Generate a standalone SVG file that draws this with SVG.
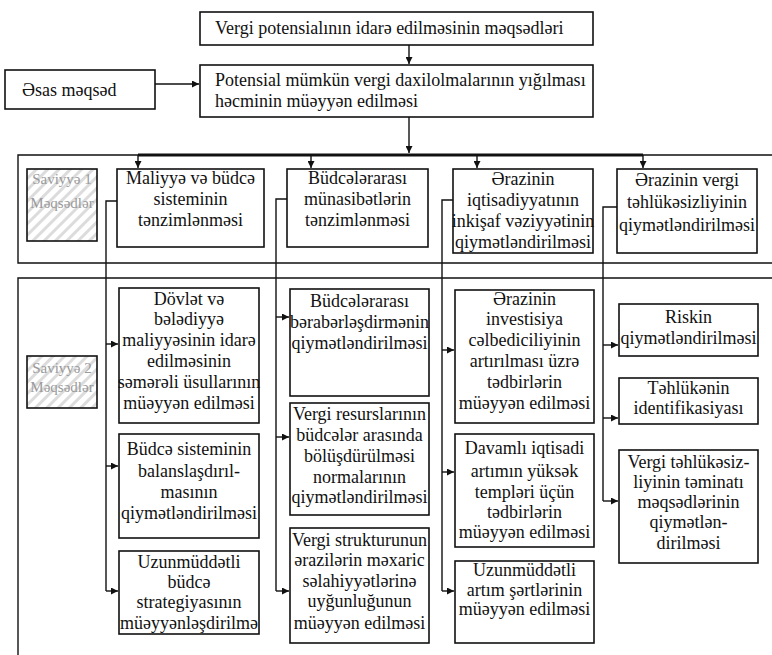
<svg xmlns="http://www.w3.org/2000/svg" width="772" height="655" viewBox="0 0 772 655">
<style>
.box{fill:#fff;stroke:#111;stroke-width:1.6}
.frame{fill:none;stroke:#111;stroke-width:1.4}
.ln{fill:none;stroke:#111;stroke-width:1.4}
.bus{fill:none;stroke:#111;stroke-width:3}
.hatch{fill:url(#hatch);stroke:#111;stroke-width:1.6}
</style>
<defs>
<marker id="ah" viewBox="0 0 10 10" refX="10" refY="5" markerWidth="7" markerHeight="7" markerUnits="userSpaceOnUse" orient="auto">
<path d="M0,0 L10,5 L0,10 z" fill="#111"/>
</marker>
<pattern id="hatch" patternUnits="userSpaceOnUse" width="8" height="8" patternTransform="rotate(45)">
<rect width="8" height="8" fill="#fff"/>
<rect width="3" height="8" fill="#dcdcdc"/>
</pattern>
</defs>
<rect width="772" height="655" fill="#fff"/>

<g id="level1-frame">
<path class="frame" d="M772,155 L18,155 L18,263 L772,263"/>
</g>
<g id="level2-frame">
<path class="frame" d="M772,278 L18,278 L18,655"/>
</g>

<g id="connectors">
<line class="ln" x1="409" y1="45" x2="409" y2="64" marker-end="url(#ah)"/>
<line class="ln" x1="155" y1="84" x2="199" y2="84" marker-end="url(#ah)"/>
<line class="ln" x1="409" y1="117" x2="409" y2="153" marker-end="url(#ah)"/>
<line class="bus" x1="138" y1="155" x2="643" y2="155"/>
<line class="ln" x1="138" y1="155" x2="138" y2="168" marker-end="url(#ah)"/>
<line class="ln" x1="311" y1="155" x2="311" y2="168" marker-end="url(#ah)"/>
<line class="ln" x1="477" y1="155" x2="477" y2="168" marker-end="url(#ah)"/>
<line class="ln" x1="643" y1="155" x2="643" y2="168" marker-end="url(#ah)"/>
<path class="ln" d="M117,201 L106,201 L106,591"/>
<line class="ln" x1="106" y1="344" x2="118" y2="344" marker-end="url(#ah)"/>
<line class="ln" x1="106" y1="466" x2="118" y2="466" marker-end="url(#ah)"/>
<line class="ln" x1="106" y1="591" x2="118" y2="591" marker-end="url(#ah)"/>
<path class="ln" d="M287,199 L276,199 L276,591"/>
<line class="ln" x1="276" y1="317" x2="289" y2="317" marker-end="url(#ah)"/>
<line class="ln" x1="276" y1="437" x2="289" y2="437" marker-end="url(#ah)"/>
<line class="ln" x1="276" y1="591" x2="289" y2="591" marker-end="url(#ah)"/>
<path class="ln" d="M453,200 L442,200 L442,591"/>
<line class="ln" x1="442" y1="350" x2="454" y2="350" marker-end="url(#ah)"/>
<line class="ln" x1="442" y1="472" x2="454" y2="472" marker-end="url(#ah)"/>
<line class="ln" x1="442" y1="591" x2="454" y2="591" marker-end="url(#ah)"/>
<path class="ln" d="M617,207 L603,207 L603,501"/>
<line class="ln" x1="603" y1="345" x2="618" y2="345" marker-end="url(#ah)"/>
<line class="ln" x1="603" y1="418" x2="618" y2="418" marker-end="url(#ah)"/>
<line class="ln" x1="603" y1="501" x2="618" y2="501" marker-end="url(#ah)"/>
</g>

<g id="nodes" font-family="Liberation Serif" font-size="18" fill="#111">
<g id="goals-title">
<rect class="box" x="200" y="12" width="393" height="33"/>
<text x="215" y="34">Vergi potensialının idarə edilməsinin məqsədləri</text>
</g>
<g id="main-goal-label">
<rect class="box" x="5" y="70" width="150" height="39"/>
<text x="22" y="96">Əsas məqsəd</text>
</g>
<g id="main-goal">
<rect class="box" x="200" y="65" width="393" height="52"/>
<text x="215" y="86">Potensial mümkün vergi daxilolmalarının yığılması</text>
<text x="215" y="107">həcminin müəyyən edilməsi</text>
</g>

<g id="level1-label" font-size="15" fill="#9a9a9a" text-anchor="middle">
<rect class="hatch" x="27" y="169" width="70" height="72"/>
<text x="62" y="184">Saviyyə 1</text>
<text x="62" y="208">Məqsədlər</text>
</g>
<g id="level2-label" font-size="15" fill="#9a9a9a" text-anchor="middle">
<rect class="hatch" x="27" y="356" width="70" height="52"/>
<text x="62" y="373">Saviyyə 2</text>
<text x="62" y="392">Məqsədlər</text>
</g>

<g id="l1-finance" text-anchor="middle">
<rect class="box" x="117" y="169" width="147" height="78"/>
<text x="190.5" y="184">Maliyyə və büdcə</text>
<text x="190.5" y="205">sisteminin</text>
<text x="190.5" y="226">tənzimlənməsi</text>
</g>
<g id="l1-interbudget" text-anchor="middle">
<rect class="box" x="287" y="169" width="141" height="78"/>
<text x="357.5" y="184">Büdcələrarası</text>
<text x="357.5" y="205">münasibətlərin</text>
<text x="357.5" y="226">tənzimlənməsi</text>
</g>
<g id="l1-economy" text-anchor="middle">
<rect class="box" x="453" y="169" width="140" height="84"/>
<text x="523" y="185">Ərazinin</text>
<text x="523" y="206">iqtisadiyyatının</text>
<text x="523" y="227">inkişaf vəziyyətinin</text>
<text x="523" y="248">qiymətləndirilməsi</text>
</g>
<g id="l1-security" text-anchor="middle">
<rect class="box" x="617" y="169" width="140" height="84"/>
<text x="687" y="186">Ərazinin vergi</text>
<text x="687" y="208">təhlükəsizliyinin</text>
<text x="687" y="231">qiymətləndirilməsi</text>
</g>

<g id="l2-c1-methods" text-anchor="middle">
<rect class="box" x="119" y="288" width="140" height="135"/>
<text x="189" y="305">Dövlət və</text>
<text x="189" y="325">bələdiyyə</text>
<text x="189" y="346">maliyyəsinin idarə</text>
<text x="189" y="367">edilməsinin</text>
<text x="189" y="388">səmərəli üsullarının</text>
<text x="189" y="409">müəyyən edilməsi</text>
</g>
<g id="l2-c1-balance" text-anchor="middle">
<rect class="box" x="119" y="434" width="140" height="104"/>
<text x="189" y="455">Büdcə sisteminin</text>
<text x="189" y="477">balanslaşdırıl-</text>
<text x="189" y="498">masının</text>
<text x="189" y="519">qiymətləndirilməsi</text>
</g>
<g id="l2-c1-strategy" text-anchor="middle">
<rect class="box" x="119" y="551" width="140" height="83"/>
<text x="189" y="568">Uzunmüddətli</text>
<text x="189" y="588">büdcə</text>
<text x="189" y="608">strategiyasının</text>
<text x="189" y="629">müəyyənləşdirilmə</text>
</g>

<g id="l2-c2-equalization" text-anchor="middle">
<rect class="box" x="290" y="289" width="139" height="107"/>
<text x="359.5" y="307">Büdcələrarası</text>
<text x="359.5" y="328">bərabərləşdirmənin</text>
<text x="359.5" y="349">qiymətləndirilməsi</text>
</g>
<g id="l2-c2-resources" text-anchor="middle">
<rect class="box" x="290" y="403" width="139" height="112"/>
<text x="359.5" y="420">Vergi resurslarının</text>
<text x="359.5" y="441">büdcələr arasında</text>
<text x="359.5" y="462">bölüşdürülməsi</text>
<text x="359.5" y="483">normalarının</text>
<text x="359.5" y="503">qiymətləndirilməsi</text>
</g>
<g id="l2-c2-structure" text-anchor="middle">
<rect class="box" x="290" y="528" width="139" height="115"/>
<text x="359.5" y="546">Vergi strukturunun</text>
<text x="359.5" y="566">ərazilərin məxaric</text>
<text x="359.5" y="587">səlahiyyətlərinə</text>
<text x="359.5" y="607">uyğunluğunun</text>
<text x="359.5" y="629">müəyyən edilməsi</text>
</g>

<g id="l2-c3-investment" text-anchor="middle">
<rect class="box" x="455" y="290" width="139" height="133"/>
<text x="524.5" y="305">Ərazinin</text>
<text x="524.5" y="325">investisiya</text>
<text x="524.5" y="346">cəlbediciliyinin</text>
<text x="524.5" y="367">artırılması üzrə</text>
<text x="524.5" y="388">tədbirlərin</text>
<text x="524.5" y="409">müəyyən edilməsi</text>
</g>
<g id="l2-c3-growth" text-anchor="middle">
<rect class="box" x="455" y="434" width="139" height="113"/>
<text x="524.5" y="454">Davamlı iqtisadi</text>
<text x="524.5" y="477">artımın yüksək</text>
<text x="524.5" y="498">templəri üçün</text>
<text x="524.5" y="518">tədbirlərin</text>
<text x="524.5" y="538">müəyyən edilməsi</text>
</g>
<g id="l2-c3-longterm" text-anchor="middle">
<rect class="box" x="455" y="561" width="139" height="82"/>
<text x="524.5" y="576">Uzunmüddətli</text>
<text x="524.5" y="596">artım şərtlərinin</text>
<text x="524.5" y="615">müəyyən edilməsi</text>
</g>

<g id="l2-c4-risk" text-anchor="middle">
<rect class="box" x="619" y="304" width="139" height="52"/>
<text x="688.5" y="323">Riskin</text>
<text x="688.5" y="344">qiymətləndirilməsi</text>
</g>
<g id="l2-c4-threat" text-anchor="middle">
<rect class="box" x="619" y="378" width="139" height="46"/>
<text x="688.5" y="394">Təhlükənin</text>
<text x="688.5" y="414">identifikasiyası</text>
</g>
<g id="l2-c4-assurance" text-anchor="middle">
<rect class="box" x="619" y="450" width="139" height="113"/>
<text x="688.5" y="468">Vergi təhlükəsiz-</text>
<text x="688.5" y="488">liyinin təminatı</text>
<text x="688.5" y="508">məqsədlərinin</text>
<text x="688.5" y="528">qiymətlən-</text>
<text x="688.5" y="549">dirilməsi</text>
</g>
</g>
</svg>
